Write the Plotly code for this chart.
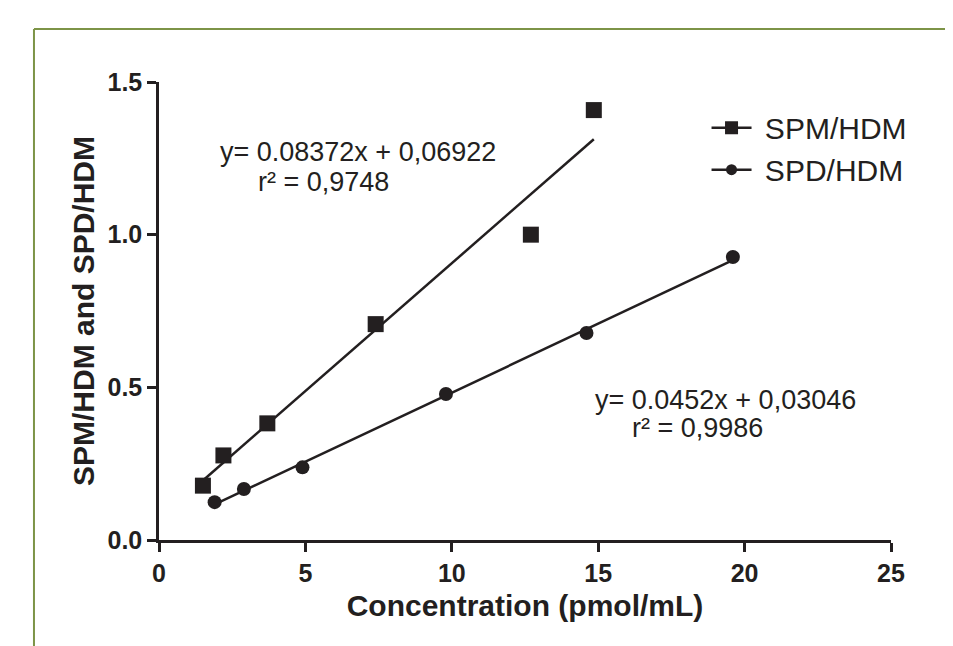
import numpy as np
import plotly.graph_objects as go

# SPM/HDM calibration points
spm_x = [1.5, 2.2, 3.7, 7.4, 12.7, 14.85]
spm_y = [0.178, 0.277, 0.382, 0.707, 1.0, 1.408]
spm_slope, spm_icpt = 0.08372, 0.06922

# SPD/HDM calibration points
spd_x = [1.9, 2.9, 4.9, 9.8, 14.6, 19.6]
spd_y = [0.124, 0.167, 0.238, 0.478, 0.678, 0.927]
spd_slope, spd_icpt = 0.0452, 0.03046

x_ticks = [0, 5, 10, 15, 20, 25]
y_ticks = [0.0, 0.5, 1.0, 1.5]
y_tick_text = ['0.0', '0.5', '1.0', '1.5']

INK = '#231f20'
FONT = 'Arial, Liberation Sans, sans-serif'

fig = go.Figure()


def fit_line(xs, slope, icpt):
    xx = np.array([min(xs), max(xs)])
    return xx, slope * xx + icpt


for name, xs, ys, sl, ic, sym, sz in [
        ('SPM/HDM', spm_x, spm_y, spm_slope, spm_icpt, 'square', 16),
        ('SPD/HDM', spd_x, spd_y, spd_slope, spd_icpt, 'circle', 14)]:
    lx, ly = fit_line(xs, sl, ic)
    fig.add_trace(go.Scatter(x=lx, y=ly, mode='lines', line=dict(color=INK, width=2.5),
                             showlegend=False, hoverinfo='skip'))
    fig.add_trace(go.Scatter(x=xs, y=ys, mode='markers', name=name, showlegend=False,
                             marker=dict(symbol=sym, size=sz, color=INK)))
    # legend entry (line + marker)
    fig.add_trace(go.Scatter(x=[None], y=[None], mode='lines+markers', name='\u00a0' + name,
                             line=dict(color=INK, width=2.5),
                             marker=dict(symbol=sym, size=sz - 3, color=INK)))

ann_font = dict(family=FONT, size=27, color=INK)
fig.add_annotation(x=0.08, y=0.847, xref='paper', yref='paper', xanchor='left', yanchor='middle',
                   text='y= 0.08372x + 0,06922', showarrow=False, font=ann_font)
fig.add_annotation(x=0.132, y=0.782, xref='paper', yref='paper', xanchor='left', yanchor='middle',
                   text='r² = 0,9748', showarrow=False, font=ann_font)
fig.add_annotation(x=0.593, y=0.306, xref='paper', yref='paper', xanchor='left', yanchor='middle',
                   text='y= 0.0452x + 0,03046', showarrow=False, font=ann_font)
fig.add_annotation(x=0.643, y=0.245, xref='paper', yref='paper', xanchor='left', yanchor='middle',
                   text='r² = 0,9986', showarrow=False, font=ann_font)

# olive frame around the figure (top and left edges visible)
BORDER = '#7d9447'
fig.add_shape(type='line', xref='paper', yref='paper', x0=-0.1708, x1=1.2, y0=1.1157, y1=1.1157,
              line=dict(color=BORDER, width=2))
fig.add_shape(type='line', xref='paper', yref='paper', x0=-0.1708, x1=-0.1708, y0=1.1157, y1=-0.3,
              line=dict(color=BORDER, width=2))

axis_common = dict(showline=True, linecolor=INK, linewidth=2.5, ticks='outside', ticklen=9,
                   tickwidth=2.5, tickcolor=INK, showgrid=False, zeroline=False,
                   tickfont=dict(family=FONT, size=25, color=INK, weight='bold'))

fig.update_layout(
    width=953, height=646,
    margin=dict(l=151, r=70, t=74, b=114),
    paper_bgcolor='white', plot_bgcolor='white',
    font=dict(family=FONT, color=INK),
    xaxis=dict(range=[0, 25], tickvals=x_ticks, **axis_common,
               title=dict(text='Concentration (pmol/mL)', standoff=10,
                          font=dict(family=FONT, size=30, color=INK, weight='bold'))),
    yaxis=dict(range=[0, 1.5], tickvals=y_ticks, ticktext=y_tick_text, **axis_common,
               title=dict(text='SPM/HDM and SPD/HDM', standoff=4,
                          font=dict(family=FONT, size=30, color=INK, weight='bold'))),
    legend=dict(x=0.748, y=0.957, xanchor='left', yanchor='top', bgcolor='rgba(0,0,0,0)',
                font=dict(family=FONT, size=30, color=INK), itemwidth=40, tracegroupgap=0),
    showlegend=True,
)

fig.write_html("out.html")
